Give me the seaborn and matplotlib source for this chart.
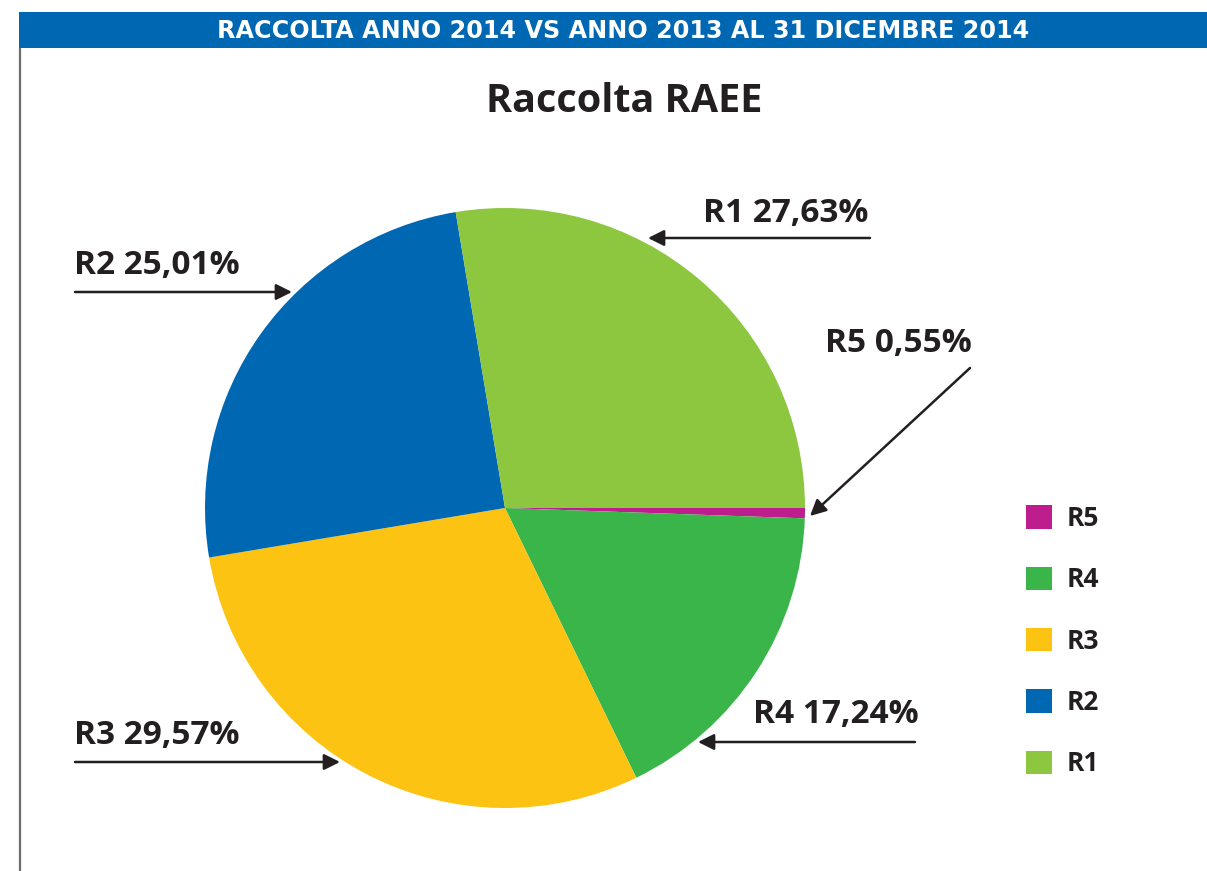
import matplotlib
matplotlib.use("Agg")
import matplotlib.pyplot as plt
import seaborn as sns
from matplotlib.patches import Rectangle

# ---------------- data ----------------
categories = ["R5", "R4", "R3", "R2", "R1"]
values = [0.55, 17.24, 29.57, 25.01, 27.63]
value_labels = ["0,55%", "17,24%", "29,57%", "25,01%", "27,63%"]
colors = ["#BE1E8D", "#3AB54A", "#FDC312", "#0067B3", "#8DC63F"]
header_text = "RACCOLTA ANNO 2014 VS ANNO 2013 AL 31 DICEMBRE 2014"
title_text = "Raccolta RAEE"

sns.set_theme(style="white")
plt.rcParams["font.family"] = ["Open Sans", "DejaVu Sans"]

W, H = 1207, 871
fig = plt.figure(figsize=(W / 100, H / 100), dpi=100)
fig.patch.set_facecolor("white")

# overlay axes in pixel coordinates (decorations)
ov = fig.add_axes([0, 0, 1, 1], zorder=3)
ov.set_xlim(0, W)
ov.set_ylim(H, 0)
ov.axis("off")
ov.patch.set_alpha(0)

# header band
ov.add_patch(Rectangle((19, 12), W - 19, 36, color="#0067B3", lw=0))
ov.text(623, 31, header_text, color="white", fontsize=17.2, fontweight="bold",
        family=["DejaVu Sans"], ha="center", va="center")
# left frame line
ov.plot([20, 20], [48, H], color="#6d6d6d", lw=1.6, solid_capstyle="butt")

# title
ov.text(624, 101, title_text, fontsize=28.5, fontweight="bold", color="#231F20",
        ha="center", va="center")

# pie
cx, cy, r = 505, 508, 300
axp = fig.add_axes([(cx - r) / W, (H - cy - r) / H, 2 * r / W, 2 * r / H], zorder=1)
wedges, _ = axp.pie(values, colors=colors, startangle=0, counterclock=False,
                    wedgeprops=dict(linewidth=0))
axp.set_xlim(-1, 1)
axp.set_ylim(-1, 1)
axp.set_aspect("equal")
axp.axis("off")

# labels with arrows
txt_kw = dict(fontsize=24, fontweight="bold", color="#231F20", va="center")
arrow_kw = dict(arrowstyle="-|>", lw=1.8, color="#231F20", mutation_scale=24,
                shrinkA=0, shrinkB=0)
label_specs = {
    "R1": dict(text=(703, 213), start=(870, 238), end=(648, 238)),
    "R2": dict(text=(74, 265), start=(75, 292), end=(292, 292)),
    "R5": dict(text=(825, 343), start=(970, 368), end=(810, 516)),
    "R4": dict(text=(753, 714), start=(915, 742), end=(698, 742)),
    "R3": dict(text=(74, 735), start=(75, 762), end=(340, 762)),
}
for cat, vl in zip(categories, value_labels):
    s = label_specs[cat]
    ov.text(s["text"][0], s["text"][1], f"{cat} {vl}", ha="left", **txt_kw)
    ov.annotate("", xy=s["end"], xytext=s["start"], arrowprops=arrow_kw)

# legend
leg = fig.legend(wedges, categories, loc="upper left",
                 bbox_to_anchor=(1026 / W, 1 - 505 / H),
                 frameon=False, prop=dict(weight="bold", size=19),
                 handlelength=0.98, handleheight=0.98, handletextpad=0.55,
                 labelspacing=1.3, borderpad=0, borderaxespad=0)
for t in leg.get_texts():
    t.set_color("#231F20")

fig.savefig("out.png", dpi=100, facecolor="white")
